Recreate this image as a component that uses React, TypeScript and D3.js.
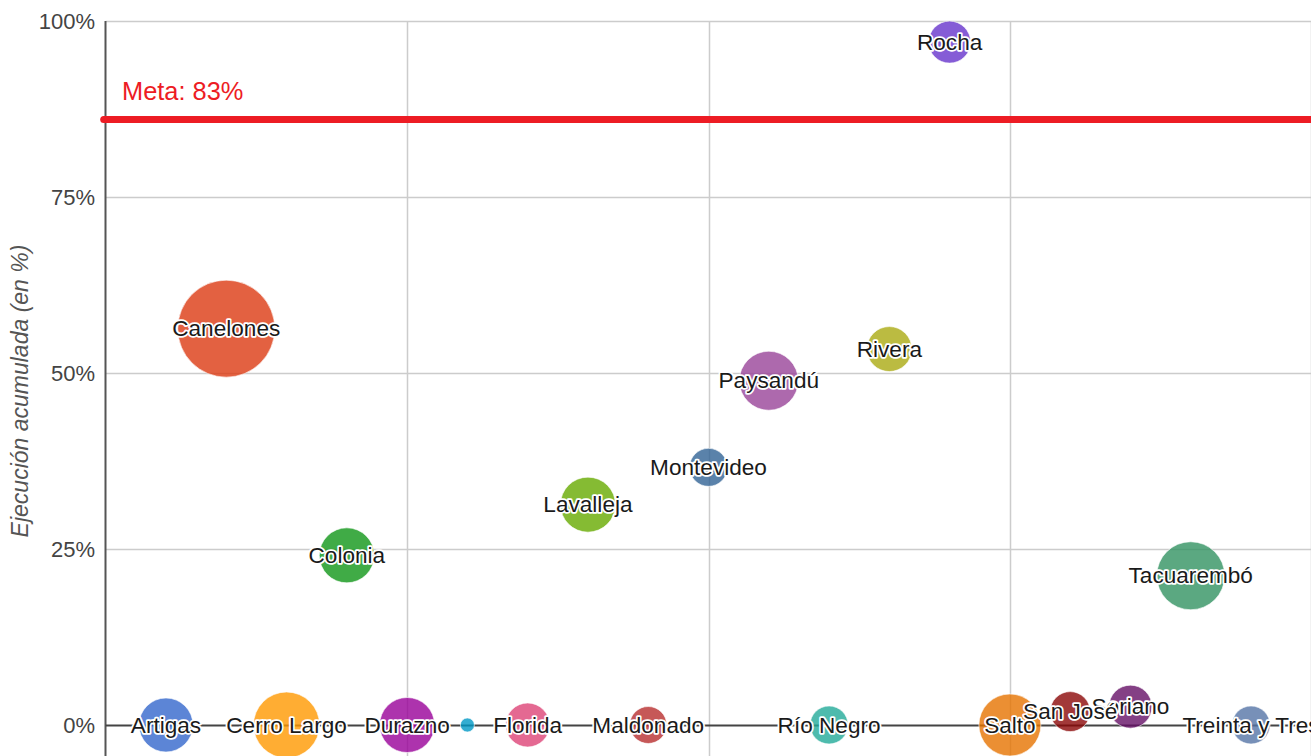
import React from "react";
import * as d3 from "d3";

const departamentos = [
  "Artigas", "Canelones", "Cerro Largo", "Colonia", "Durazno", "Flores", "Florida",
  "Lavalleja", "Maldonado", "Montevideo", "Paysandú", "Río Negro", "Rivera", "Rocha",
  "Salto", "San José", "Soriano", "Tacuarembó", "Treinta y Tres",
];
const posicion = [1, 2, 3, 4, 5, 6, 7, 8, 9, 10, 11, 12, 13, 14, 15, 16, 17, 18, 19];
const ejecucion = [0, 56.3, 0, 24.1, 0, 0, 0, 31.3, 0, 36.6, 48.9, 0, 53.4, 97.0, 0, 1.9, 2.6, 21.2, 0];
const tamano = [27, 48.5, 33, 27.5, 27.5, 7, 22, 27.5, 18.5, 19, 29.5, 19, 22.5, 21, 31, 20, 21.5, 34, 19];
const colores = [
  "#3366cc", "#dc3912", "#ff9900", "#109618", "#990099", "#0099c6", "#dd4477",
  "#66aa00", "#b82e2e", "#316395", "#994499", "#22aa99", "#aaaa11", "#6633cc",
  "#e67300", "#8b0707", "#651067", "#329262", "#5574a6",
];
const mostrarEtiqueta = [true, true, true, true, true, false, true, true, true, true, true, true, true, true, true, true, true, true, true];

const yTicks = [0, 25, 50, 75, 100];
const xGrid = [5, 10, 15, 20];
const metaValor = 86;
const metaTexto = "Meta: 83%";
const yTitulo = "Ejecución acumulada (en %)";

const W = 1311;
const H = 756;
const FONT = "'Liberation Sans', Arial, sans-serif";

export default function App() {
  const x = d3.scaleLinear().domain([0, 20]).range([105.7, 1311.3]);
  const y = d3.scaleLinear().domain([0, 100]).range([725, 21]);
  const r = d3.scaleLinear().domain([0, 50]).range([0, 50]);
  const plotBottom = 820;

  const bubbles = departamentos
    .map((name, i) => ({
      name,
      x: posicion[i],
      y: ejecucion[i],
      size: tamano[i],
      color: colores[i],
      label: mostrarEtiqueta[i],
    }))
    .sort((a, b) => b.size - a.size);

  return (
    <svg
      width={W}
      height={H}
      style={{ position: "absolute", left: 0, top: 0, display: "block", background: "#fff" }}
      fontFamily={FONT}
    >
      <defs>
        <clipPath id="plot">
          <rect x={x(0)} y={y(100)} width={x(20) - x(0)} height={plotBottom - y(100)} />
        </clipPath>
      </defs>
      <rect x={0} y={0} width={W} height={H} fill="#fff" />

      {yTicks.filter((t) => t !== 0).map((t) => (
        <line key={"h" + t} x1={x(0)} x2={x(20)} y1={Math.round(y(t)) + 0.5} y2={Math.round(y(t)) + 0.5} stroke="#cccccc" strokeWidth={1.5} />
      ))}
      {xGrid.map((t) => (
        <line key={"v" + t} x1={Math.round(x(t)) + 0.5} x2={Math.round(x(t)) + 0.5} y1={y(100)} y2={plotBottom} stroke="#cccccc" strokeWidth={1.5} />
      ))}

      {yTicks.map((t) => (
        <text key={"t" + t} x={95} y={y(t)} textAnchor="end" dominantBaseline="central" fontSize={22} fill="#444444">
          {t + "%"}
        </text>
      ))}

      <text
        transform={`translate(28, ${391}) rotate(-90)`}
        textAnchor="middle"
        fontSize={23}
        fontStyle="italic"
        fill="#555555"
      >
        {yTitulo}
      </text>

      <line x1={Math.round(x(0)) - 0.5} x2={Math.round(x(0)) - 0.5} y1={y(100)} y2={plotBottom} stroke="#555555" strokeWidth={2} />
      <line x1={x(0)} x2={x(20)} y1={Math.round(y(0)) + 0.5} y2={Math.round(y(0)) + 0.5} stroke="#444444" strokeWidth={1.8} />

      <line x1={x(0) - 2} x2={x(20) + 5} y1={y(metaValor)} y2={y(metaValor)} stroke="#ed1c24" strokeWidth={7} strokeLinecap="round" />
      <text x={122} y={99.5} fontSize={25.4} fill="#ed1c24">{metaTexto}</text>

      {bubbles.map((b) => (
        <g key={b.name}>
          <g clipPath="url(#plot)">
            <circle
              cx={x(b.x)}
              cy={y(b.y)}
              r={r(b.size)}
              fill={b.color}
              fillOpacity={0.8}
              stroke="#ffffff"
              strokeOpacity={0.6}
              strokeWidth={1}
            />
          </g>
          {b.label && (
            <text
              x={x(b.x)}
              y={y(b.y)}
              textAnchor="middle"
              dominantBaseline="central"
              fontSize={22.6}
              fill="#1a1a1a"
              stroke="#ffffff"
              strokeWidth={3.5}
              strokeLinejoin="round"
              paintOrder="stroke"
            >
              {b.name}
            </text>
          )}
        </g>
      ))}
    </svg>
  );
}
